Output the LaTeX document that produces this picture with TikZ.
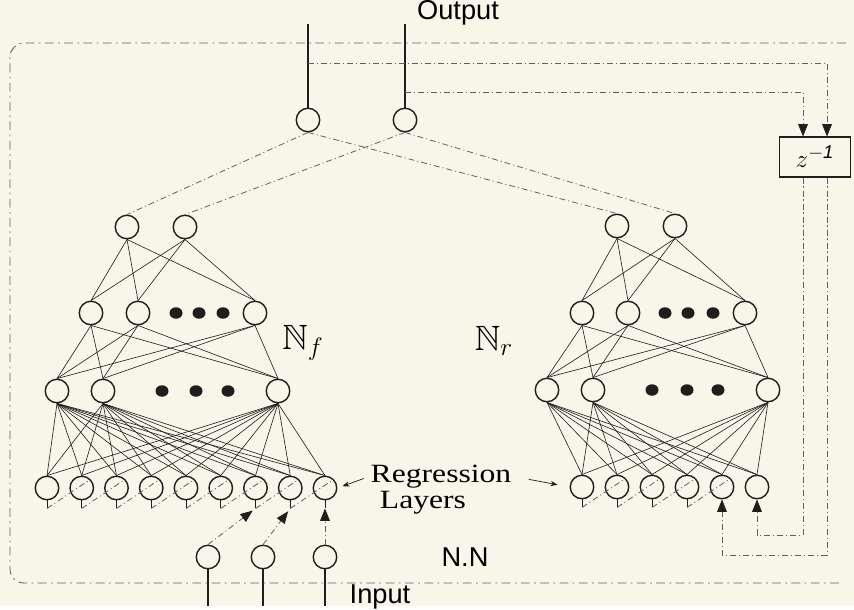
\documentclass[tikz,border=0pt]{standalone}
\usepackage{amssymb}
\usepackage{fontspec}
\setmainfont{Liberation Sans}
\newfontfamily\romanfont[FakeStretch=1.2]{Liberation Serif}
\usetikzlibrary{arrows.meta,calc,shapes.geometric}
\definecolor{paper}{RGB}{248,246,233}
\definecolor{ink}{RGB}{30,30,30}
\definecolor{faint}{RGB}{95,95,95}
\tikzset{
    neuron/.style={draw=ink, circle, line width=0.8pt, minimum size=0.47cm, inner sep=0pt},
    blob/.style={fill=ink, ellipse, minimum width=0.26cm, minimum height=0.23cm, inner sep=0pt},
    wire/.style={draw=ink, line width=0.35pt},
    stem/.style={draw=ink, line width=1.3pt},
    dd/.style={draw=faint, line width=0.45pt, dash pattern=on 3.4pt off 1.7pt on 0.6pt off 1.7pt},
    framed/.style={draw=faint, line width=0.5pt, dash pattern=on 5pt off 2.5pt on 1pt off 2.5pt},
    tip/.style={-{Triangle[length=7pt, width=5.5pt, color=ink]}},
    pointer/.style={draw=ink, line width=0.4pt, -{Stealth[length=4pt, width=3pt]}},
    lbl/.style={font=\fontsize{15.5}{18}\selectfont, inner sep=0pt},
    rlbl/.style={font=\romanfont\fontsize{15}{17}\selectfont, inner sep=0pt, anchor=base},
    nlbl/.style={font=\fontsize{20}{22}\selectfont, inner sep=0pt}
}
\begin{document}
\begin{tikzpicture}[x=0.02cm, y=-0.02cm]
    \fill[paper] (0,0) rectangle (854,606);

    \node[neuron] (out1) at (308,120) {};
    \node[neuron] (out2) at (405,120) {};
    \coordinate (top1) at (308,24);
    \coordinate (top2) at (405,24);
    \draw[stem] (top1) -- (out1.north);
    \draw[stem] (top2) -- (out2.north);
    \node[lbl] (outlbl) at (458,13) {Output};

    \foreach \n/\x in {1/127,2/185} \node[neuron] (f1\n) at (\x,227) {};
    \foreach \n/\x in {1/91,2/138,3/255} \node[neuron] (f2\n) at (\x,313) {};
    \foreach \n/\x in {1/57,2/103,3/278} \node[neuron] (f3\n) at (\x,391) {};
    \foreach \x in {176,199,223} \node[blob] (fdb\x) at (\x,313) {};
    \foreach \x in {162,196,228} \node[blob] (fdc\x) at (\x,391) {};
    \foreach \i in {1,...,9} \node[neuron] (fr\i) at ({12.25+34.75*\i},488) {};

    \foreach \n/\x in {1/617,2/675} \node[neuron] (r1\n) at (\x,226) {};
    \foreach \n/\x in {1/582,2/628,3/745} \node[neuron] (r2\n) at (\x,313) {};
    \foreach \n/\x in {1/547,2/593,3/768} \node[neuron] (r3\n) at (\x,390) {};
    \foreach \x in {665,688,713} \node[blob] (rdb\x) at (\x,313) {};
    \foreach \x in {652,687,718} \node[blob] (rdc\x) at (\x,390) {};
    \foreach \i in {1,...,6} \node[neuron] (rr\i) at ({547+35*\i},487) {};

    \foreach \a in {1,2} \foreach \b in {1,2,3} {
        \draw[wire] (f1\a.south) -- (f2\b.north);
        \draw[wire] (r1\a.south) -- (r2\b.north);
    }
    \foreach \a in {1,2,3} \foreach \b in {1,2,3} {
        \draw[wire] (f2\a.south) -- (f3\b.north);
        \draw[wire] (r2\a.south) -- (r3\b.north);
    }
    \foreach \a in {1,2,3} {
        \foreach \b in {1,...,9} \draw[wire] (f3\a.south) -- (fr\b.north);
        \foreach \b in {1,...,6} \draw[wire] (r3\a.south) -- (rr\b.north);
    }

    \foreach \i in {1,...,9} \draw[wire] (fr\i.south) -- ++(0,8) coordinate (ft\i);
    \foreach \i in {1,...,4} \draw[wire] (rr\i.south) -- ++(0,8) coordinate (rt\i);
    \foreach \i [count=\j from 2] in {1,...,8} \draw[dd] (ft\i) -- (fr\j.north east);
    \foreach \i [count=\j from 2] in {1,...,4} \draw[dd] (rt\i) -- (rr\j.north east);

    \draw[dd] (out1.south) -- (f11.north);
    \draw[dd] (out1.south) -- (r11.north);
    \draw[dd] (out2.south) -- (f12.north);
    \draw[dd] (out2.south) -- (r12.north);

    \node[neuron] (in1) at (208,557) {};
    \node[neuron] (in2) at (263,557) {};
    \node[neuron] (in3) at (325,557) {};
    \foreach \i in {1,2,3} {
        \coordinate (base\i) at (in\i |- 0,606);
        \draw[stem] (in\i.south) -- (base\i);
    }
    \draw[dd, tip, shorten >=2pt] (in1.north) -- (ft7);
    \draw[dd, tip, shorten >=2pt] (in2.north) -- (ft8);
    \draw[dd, tip] (in3.north) -- (ft9);

    \node[draw=ink, line width=0.6pt, minimum width=1.42cm, minimum height=0.8cm, inner sep=0pt,
        font=\fontsize{15}{17}\selectfont] (zbox) at (815,157) {$z^{\mathit{-1}}$};
    \coordinate (tapA) at (827,63);
    \coordinate (tapB) at (803,92);
    \coordinate (lowA) at (722,555);
    \coordinate (lowB) at (757,535);
    \draw[dd, tip] (top1 |- tapA) -- (tapA) -- (tapA |- zbox.north);
    \draw[dd, tip] (top2 |- tapB) -- (tapB) -- (tapB |- zbox.north);
    \draw[dd, tip] (tapA |- zbox.south) |- (lowA) -- (rr5.south);
    \draw[dd, tip] (tapB |- zbox.south) |- (lowB) -- (rr6.south);

    \draw[framed, rounded corners=8pt] (846,43) -- (10,43) -- (10,583) -- (842,583);

    \node[nlbl] (nflbl) at (303,343) {$\mathbb{N}_{f}$};
    \node[nlbl] (nrlbl) at (494,341) {$\mathbb{N}_{r}$};
    \node[rlbl] (reglbl) at (441,482) {Regression};
    \node[rlbl] (laylbl) at (423,508) {Layers};
    \draw[pointer, shorten <=4pt, shorten >=3pt] (reglbl.west) -- (fr9.east);
    \draw[pointer, shorten <=10pt, shorten >=7pt] (reglbl.east) -- (rr1.west);
    \node[lbl] (nnlbl) at (465,557) {N.N};
    \node[lbl] (inlbl) at (380,597) {Input};
\end{tikzpicture}
\end{document}
